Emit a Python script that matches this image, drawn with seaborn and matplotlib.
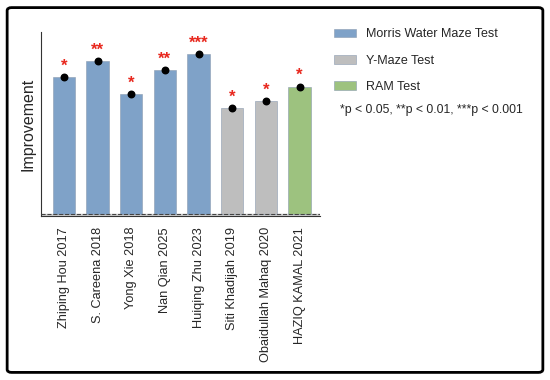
import pandas as pd
import numpy as np
import matplotlib
matplotlib.use("Agg")
import matplotlib.pyplot as plt
import seaborn as sns
from matplotlib.patches import FancyBboxPatch, Patch

studies = ["Zhiping Hou 2017", "S. Careena 2018", "Yong Xie 2018", "Nan Qian 2025",
           "Huiqing Zhu 2023", "Siti Khadijah 2019", "Obaidullah Mahaq 2020", "HAZIQ KAMAL 2021"]
improvement = [0.75, 0.84, 0.66, 0.79, 0.88, 0.58, 0.62, 0.70]
tests = ["Morris Water Maze Test"] * 5 + ["Y-Maze Test"] * 2 + ["RAM Test"]
stars = ["*", "**", "*", "**", "***", "*", "*", "*"]
test_names = ["Morris Water Maze Test", "Y-Maze Test", "RAM Test"]
colors = ["#7fa2c8", "#bebebe", "#9dc27f"]

df = pd.DataFrame({"study": studies, "improvement": improvement, "test": tests})

sns.set_style("white")
plt.rcParams['font.family'] = ['Liberation Sans', 'DejaVu Sans']

fig = plt.figure(figsize=(5.5, 3.8), dpi=100)
ax = fig.add_axes([0.0745, 0.432, 0.508, 0.484])

palette = dict(zip(test_names, colors))
sns.barplot(data=df, x="study", y="improvement", hue="test", palette=palette,
            dodge=False, width=0.66, legend=False, ax=ax, saturation=1,
            edgecolor="#8a9bb0", linewidth=0.4)

# study means as dots, significance stars above
ax.scatter(range(len(studies)), improvement, color="black", s=22, zorder=5)
for i, (v, s) in enumerate(zip(improvement, stars)):
    ax.text(i, v + 0.06, s, color="#e8281e", ha="center", va="center",
            fontsize=12, fontweight="bold")

ax.set_xlim(-0.68, 7.62)
ax.set_ylim(-0.01, 1.0)
ax.axhspan(-0.01, 0.0, color="#d0d0d0", zorder=0)
ax.axhline(0, color="#444444", linestyle="--", linewidth=0.8, zorder=6)
ax.set_yticks([])
ax.set_xlabel("")
ax.set_ylabel("Improvement", fontsize=11.5)
ax.tick_params(axis="x", length=0, pad=8)
plt.setp(ax.get_xticklabels(), rotation=90, fontsize=9.2)
for side in ["top", "right"]:
    ax.spines[side].set_visible(False)
ax.spines["left"].set_color("#333333")
ax.spines["bottom"].set_color("#333333")

handles = [Patch(facecolor=c, edgecolor="#8a9bb0", linewidth=0.4) for c in colors]
fig.legend(handles, test_names, loc="upper left", bbox_to_anchor=(0.587, 0.955),
           frameon=False, fontsize=9, handlelength=1.75, handleheight=0.7,
           labelspacing=1.15, handletextpad=0.8)
fig.text(0.618, 0.71, "*p < 0.05, **p < 0.01, ***p < 0.001", fontsize=8.8, va="center")

border = FancyBboxPatch((0.013, 0.02), 0.974, 0.96, boxstyle="round,pad=0,rounding_size=0.008",
                        transform=fig.transFigure, fill=False, edgecolor="black", linewidth=2)
fig.patches.append(border)

fig.savefig("out.png", dpi=100)
